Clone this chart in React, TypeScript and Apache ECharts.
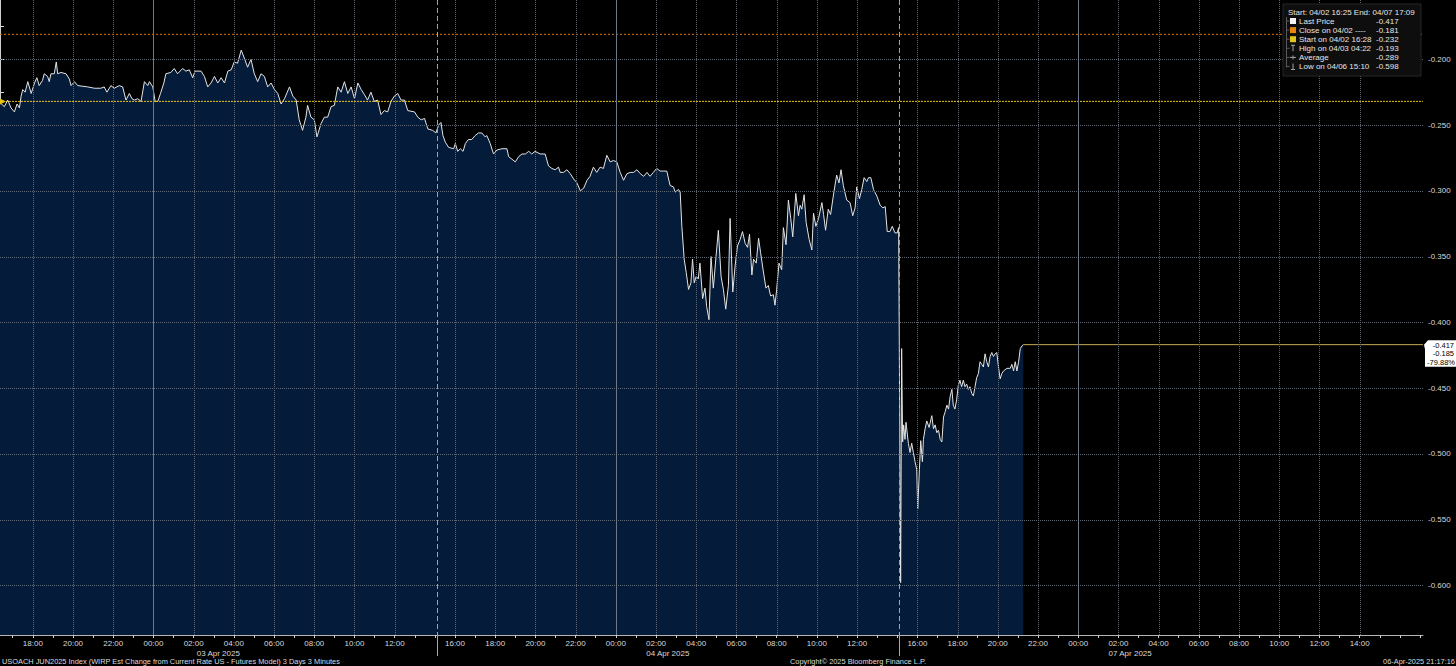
import { useEffect, useRef } from 'react';
import * as echarts from 'echarts';

// ---- sessions (compressed time axis, gaps between sessions removed) ----
const sessionOpens = ['04-02 16:22', '04-03 15:05', '04-06 15:05'];
const sessionCloses = ['04-03 14:05', '04-04 14:05', '04-07 14:05'];
const sessionDayLabels = ['03 Apr 2025', '04 Apr 2025', '07 Apr 2025'];
const chartEnd = '04-07 17:09';

// ---- data: session 1 (02 Apr 16:22 -> 03 Apr 14:05) ----
const s1Times = ['16:22','16:35','16:45','16:55','17:05','17:13','17:20','17:25','17:30','17:37','17:45','17:55','18:05','18:12','18:19','18:29','18:34','18:44','18:49','18:54','19:04','19:10','19:14','19:24','19:39','19:49','19:54','20:04','20:14','20:44','21:04','21:23','21:33','21:41','21:53','22:03','22:18','22:28','22:38','22:48','22:56','23:03','23:13','23:23','23:33','23:43','23:48','23:58','00:05','00:13','00:21','00:31','00:37','00:52','01:02','01:12','01:27','01:37','01:47','01:57','02:04','02:22','02:32','02:42','02:52','03:02','03:12','03:22','03:32','03:42','03:52','04:01','04:11','04:22','04:31','04:41','04:51','05:01','05:11','05:21','05:31','05:41','05:51','06:01','06:11','06:21','06:31','06:46','06:56','07:06','07:15','07:25','07:35','07:40','07:50','08:00','08:08','08:20','08:30','08:40','08:50','09:00','09:10','09:20','09:30','09:40','09:50','10:00','10:10','10:20','10:30','10:39','10:49','10:59','11:09','11:19','11:29','11:39','11:49','11:59','12:09','12:19','12:29','12:39','12:59','13:09','13:19','13:29','13:39','13:53','14:03'];
const s1Values = [-0.233,-0.236,-0.231,-0.237,-0.240,-0.234,-0.237,-0.228,-0.223,-0.225,-0.217,-0.226,-0.218,-0.214,-0.220,-0.216,-0.211,-0.213,-0.217,-0.211,-0.211,-0.202,-0.211,-0.210,-0.211,-0.215,-0.220,-0.217,-0.220,-0.221,-0.222,-0.222,-0.221,-0.225,-0.220,-0.222,-0.220,-0.221,-0.231,-0.226,-0.230,-0.231,-0.230,-0.232,-0.217,-0.220,-0.217,-0.221,-0.232,-0.232,-0.226,-0.218,-0.211,-0.210,-0.207,-0.211,-0.207,-0.209,-0.208,-0.214,-0.209,-0.209,-0.213,-0.221,-0.218,-0.213,-0.218,-0.214,-0.218,-0.209,-0.208,-0.202,-0.203,-0.193,-0.199,-0.206,-0.200,-0.211,-0.217,-0.211,-0.213,-0.221,-0.218,-0.223,-0.226,-0.234,-0.230,-0.221,-0.228,-0.231,-0.246,-0.254,-0.244,-0.235,-0.244,-0.246,-0.259,-0.249,-0.244,-0.244,-0.236,-0.235,-0.221,-0.225,-0.217,-0.226,-0.221,-0.230,-0.218,-0.223,-0.227,-0.231,-0.225,-0.232,-0.231,-0.242,-0.239,-0.240,-0.232,-0.228,-0.226,-0.231,-0.231,-0.239,-0.240,-0.244,-0.246,-0.245,-0.253,-0.254,-0.256];

// ---- data: session 2 (03 Apr 15:05 -> 04 Apr 14:05) ----
const s2Times = ['15:11','15:18','15:24','15:31','15:41','15:56','16:01','16:08','16:16','16:24','16:31','16:40','16:50','17:00','17:10','17:20','17:30','17:35','17:45','17:55','18:05','18:20','18:35','18:40','18:50','19:00','19:10','19:20','19:30','19:40','19:49','19:59','20:14','20:29','20:39','20:49','20:59','21:09','21:14','21:24','21:34','21:44','21:54','22:04','22:14','22:24','22:34','22:43','22:53','23:03','23:13','23:23','23:33','23:43','23:53','00:03','00:13','00:23','00:33','00:43','00:53','01:03','01:13','01:23','01:33','01:42','01:52','02:02','02:12','02:22','02:32','02:42','02:52','02:57','03:07','03:12','03:17','03:24','03:30','03:37','03:44','03:49','03:54','04:00','04:06','04:11','04:19','04:26','04:31','04:38','04:44','04:51','04:59','05:06','05:14','05:21','05:28','05:36','05:41','05:49','05:56','06:03','06:11','06:18','06:26','06:33','06:39','06:46','06:51','06:59','07:06','07:12','07:20','07:28','07:35','07:42','07:50','07:55','08:00','08:07','08:15','08:20','08:28','08:35','08:42','08:48','08:57','09:05','09:10','09:15','09:22','09:28','09:37','09:45','09:50','09:57','10:05','10:15','10:20','10:26','10:34','10:41','10:49','10:59','11:06','11:12','11:19','11:29','11:39','11:47','11:54','11:59','12:07','12:14','12:21','12:29','12:34','12:41','12:49','12:59','13:09','13:17','13:24','13:30','13:38','13:45','13:53','14:00','14:04'];
const s2Values = [-0.250,-0.248,-0.258,-0.263,-0.267,-0.268,-0.264,-0.270,-0.268,-0.270,-0.264,-0.261,-0.261,-0.258,-0.256,-0.256,-0.259,-0.258,-0.264,-0.272,-0.269,-0.268,-0.268,-0.274,-0.276,-0.278,-0.274,-0.272,-0.272,-0.270,-0.272,-0.270,-0.272,-0.272,-0.281,-0.283,-0.284,-0.282,-0.286,-0.286,-0.284,-0.287,-0.291,-0.294,-0.300,-0.298,-0.292,-0.289,-0.282,-0.286,-0.282,-0.283,-0.273,-0.278,-0.277,-0.278,-0.286,-0.292,-0.287,-0.286,-0.286,-0.284,-0.287,-0.289,-0.286,-0.289,-0.286,-0.283,-0.285,-0.285,-0.285,-0.296,-0.297,-0.301,-0.299,-0.301,-0.327,-0.352,-0.362,-0.375,-0.370,-0.352,-0.370,-0.365,-0.367,-0.355,-0.382,-0.374,-0.388,-0.398,-0.350,-0.374,-0.350,-0.330,-0.365,-0.375,-0.390,-0.372,-0.321,-0.377,-0.357,-0.342,-0.337,-0.331,-0.340,-0.343,-0.333,-0.364,-0.352,-0.355,-0.336,-0.347,-0.361,-0.374,-0.372,-0.380,-0.379,-0.387,-0.375,-0.355,-0.360,-0.328,-0.341,-0.307,-0.321,-0.335,-0.302,-0.319,-0.311,-0.314,-0.303,-0.324,-0.337,-0.345,-0.317,-0.327,-0.321,-0.309,-0.318,-0.330,-0.314,-0.318,-0.304,-0.288,-0.294,-0.284,-0.296,-0.307,-0.309,-0.319,-0.313,-0.297,-0.306,-0.299,-0.290,-0.293,-0.290,-0.290,-0.299,-0.304,-0.311,-0.313,-0.312,-0.331,-0.331,-0.327,-0.332,-0.332,-0.328];

// ---- data: session 3 (06 Apr 15:05 -> last print 21:16) ----
const s3Times = ['15:10','15:13','15:16','15:19','15:23','15:26','15:33','15:38','15:43','15:48','15:53','15:58','16:01','16:06','16:10','16:15','16:18','16:23','16:28','16:35','16:43','16:48','16:53','16:58','17:03','17:08','17:13','17:18','17:23','17:28','17:33','17:38','17:43','17:47','17:52','17:57','18:02','18:07','18:12','18:17','18:22','18:27','18:32','18:37','18:42','18:47','18:52','18:57','19:02','19:07','19:12','19:17','19:22','19:27','19:32','19:37','19:42','19:47','19:52','19:57','20:02','20:07','20:12','20:17','20:27','20:37','20:42','20:47','20:52','20:57','21:02','21:07','21:12','21:16'];
const s3Values = [-0.598,-0.420,-0.491,-0.478,-0.489,-0.476,-0.492,-0.499,-0.492,-0.499,-0.506,-0.512,-0.542,-0.512,-0.490,-0.506,-0.489,-0.481,-0.475,-0.480,-0.471,-0.481,-0.478,-0.484,-0.482,-0.489,-0.491,-0.472,-0.468,-0.463,-0.466,-0.456,-0.451,-0.463,-0.466,-0.459,-0.448,-0.444,-0.449,-0.444,-0.449,-0.447,-0.451,-0.449,-0.454,-0.456,-0.449,-0.442,-0.439,-0.430,-0.432,-0.434,-0.424,-0.430,-0.434,-0.426,-0.423,-0.426,-0.424,-0.423,-0.434,-0.443,-0.439,-0.437,-0.435,-0.435,-0.432,-0.437,-0.430,-0.437,-0.430,-0.420,-0.418,-0.417];

// ---- reference values ----
const closeValue = -0.181;
const startValue = -0.232;
const lastValue = -0.417;
const lastChange = '-0.185';
const lastChangePct = '-79.88%';
const yLabelValues = [-0.6, -0.55, -0.5, -0.45, -0.4, -0.35, -0.3, -0.25, -0.2];
const yTickValues = [-0.625, -0.6, -0.575, -0.55, -0.525, -0.5, -0.475, -0.45, -0.425, -0.4, -0.375, -0.35, -0.325, -0.3, -0.275, -0.25, -0.225, -0.2, -0.175];
const legendTitle = 'Start: 04/02 16:25 End: 04/07 17:09';
const legendLabels = ['Last Price', 'Close on 04/02 ----', 'Start on 04/02 16:28', 'High on 04/03 04:22', 'Average', 'Low on 04/06 15:10'];
const legendValues = ['-0.417', '-0.181', '-0.232', '-0.193', '-0.289', '-0.598'];
const footerLeft = 'USOACH JUN2025 Index (WIRP Est Change from Current Rate US - Futures Model) 3 Days 3 Minutes';
const footerCenter = 'Copyright\u00A9 2025 Bloomberg Finance L.P.';
const footerRight = '06-Apr-2025 21:17:16';

const yMin = -0.6378;
const yMax = -0.1549;

// ---- helpers ----
const clockMin = (hm: string) => {
  const [h, m] = hm.split(':').map(Number);
  return h * 60 + m;
};
const absMin = (s: string) => {
  const [md, hm] = s.split(' ');
  const d = Number(md.split('-')[1]);
  return d * 1440 + clockMin(hm);
};
const openAbs = sessionOpens.map(absMin);
const closeAbs = sessionCloses.map(absMin);
const offsets: number[] = [];
{
  let acc = 0;
  for (let i = 0; i < openAbs.length; i++) {
    offsets.push(acc);
    acc += closeAbs[i] - openAbs[i];
  }
}
const posOf = (s: number, hm: string) =>
  offsets[s] + ((clockMin(hm) - (openAbs[s] % 1440) + 1440) % 1440);
const axisMax = offsets[2] + absMin(chartEnd) - openAbs[2];

const lineData: number[][] = [];
[[s1Times, s1Values], [s2Times, s2Values], [s3Times, s3Values]].forEach(([t, v]: any, s) => {
  (t as string[]).forEach((hm, i) => lineData.push([posOf(s, hm), (v as number[])[i]]));
});
const lastPos = lineData[lineData.length - 1][0];

// ticks / labels
const tickPos: number[] = [];
const labelPos: number[] = [];
const labelMap = new Map<number, string>();
const evenHourPos: number[] = [];
const midnightPos: number[] = [];
for (let s = 0; s < openAbs.length; s++) {
  const isBreak = s < openAbs.length - 1;
  const tickEnd = isBreak ? closeAbs[s] : absMin(chartEnd);
  const labelEnd = isBreak ? closeAbs[s] - 30 : closeAbs[s];
  for (let t = Math.ceil(openAbs[s] / 60) * 60; t <= tickEnd; t += 60) {
    const p = offsets[s] + t - openAbs[s];
    const hour = (t % 1440) / 60;
    tickPos.push(p);
    if (hour % 2 === 0 && t <= labelEnd) {
      labelPos.push(p);
      labelMap.set(p, String(hour).padStart(2, '0') + ':00');
      if (hour === 0) midnightPos.push(p);
      else evenHourPos.push(p);
    }
  }
  const c = offsets[s] + (closeAbs[s] - openAbs[s]) / 2;
  labelPos.push(c);
  labelMap.set(c, '\n' + sessionDayLabels[s]);
}
const sessionBreaks = offsets.slice(1);

const FONT = "'Liberation Sans', Arial, sans-serif";

const flatLine = (name: string, value: number, x0: number, x1: number, color: string, type: any, z: number) => ({
  name,
  type: 'line',
  data: [[x0, value], [x1, value]],
  symbol: 'none',
  showSymbol: false,
  silent: true,
  color,
  lineStyle: { color, width: 1, type },
  z,
});

export default function App() {
  const ref = useRef<HTMLDivElement>(null);
  useEffect(() => {
    document.body.style.margin = '0';
    document.body.style.background = '#000';
    const chart = echarts.init(ref.current!, null, { renderer: 'svg' });
    chart.setOption({
      backgroundColor: '#000',
      animation: false,
      grid: { left: 0, right: 33, top: 0, bottom: 31, outerBoundsMode: 'none' },
      xAxis: {
        type: 'value',
        min: 0,
        max: axisMax,
        axisLine: { show: true, lineStyle: { color: '#b4b4b4', width: 1 } },
        axisTick: { show: true, customValues: tickPos, length: 3, lineStyle: { color: '#cfcfcf' } },
        axisLabel: {
          show: true,
          customValues: labelPos,
          formatter: (v: number) => labelMap.get(v) ?? '',
          color: '#d8d8d8',
          fontSize: 8,
          fontFamily: FONT,
          margin: 3,
          lineHeight: 10,
        },
        splitLine: { show: false },
      },
      yAxis: {
        type: 'value',
        position: 'right',
        min: yMin,
        max: yMax,
        axisLine: { show: true, lineStyle: { color: '#cfcfcf', width: 1 } },
        axisTick: { show: true, customValues: yTickValues, length: 4, lineStyle: { color: '#d8d8d8' } },
        axisLabel: {
          show: true,
          customValues: yLabelValues,
          formatter: (v: number) => v.toFixed(3),
          color: '#d8d8d8',
          fontSize: 8,
          fontFamily: FONT,
          margin: 5,
        },
        splitLine: { show: false },
      },
      series: [
        {
          name: 'Last Price',
          type: 'line',
          data: lineData,
          symbol: 'none',
          showSymbol: false,
          color: '#e4e4e4',
          lineStyle: { color: '#e4e4e4', width: 1 },
          areaStyle: { color: '#041c3a', opacity: 1, origin: 'start' },
          z: 2,
          markPoint: {
            silent: true,
            animation: false,
            data: [
              {
                coord: [0, startValue],
                symbol: 'triangle',
                symbolSize: [6, 6],
                symbolRotate: -90,
                symbolOffset: [3, 0],
                itemStyle: { color: '#e0c21a' },
                label: { show: false },
              },
            ],
          },
        },
        flatLine('Close on 04/02', closeValue, 0, axisMax, '#d87412', [2, 2], 8),
        flatLine('Start on 04/02', startValue, 0, axisMax, '#e8c412', [2, 1], 8),
        flatLine('Last extension', lastValue, lastPos, axisMax, '#c4ab55', 'solid', 9),
      ],
    });

    const px = (v: number) => chart.convertToPixel({ xAxisIndex: 0 }, v) as number;
    const py = (v: number) => chart.convertToPixel({ yAxisIndex: 0 }, v) as number;
    const yLast = py(lastValue);
    const yBottom = py(yMin);
    const yTop = py(yMax);
    const xLeft = px(0);
    const xAxisRight = px(axisMax);

    const gl = (x1: number, y1: number, x2: number, y2: number, stroke: string, dash: number[] | null, z = 20) => ({
      type: 'line',
      z,
      silent: true,
      shape: { x1, y1, x2, y2 },
      style: { stroke, lineWidth: 1, lineDash: dash ?? undefined },
    });

    const gridLines: any[] = [
      ...yLabelValues.map((v) => { const y = Math.round(py(v)) + 0.5; return gl(xLeft, y, xAxisRight, y, '#5f6872', [1, 1]); }),
      ...evenHourPos.map((v) => { const x = Math.round(px(v)) + 0.5; return gl(x, yTop, x, yBottom, '#5f6872', [1, 1]); }),
      ...midnightPos.map((v) => { const x = Math.round(px(v)) + 0.5; return gl(x, yTop, x, yBottom, '#6c7886', null); }),
      ...sessionBreaks.map((v) => { const x = Math.round(px(v)) + 0.5; return gl(x, yTop, x, yBottom, '#a4a4a4', [5, 3]); }),
      ...sessionBreaks.map((v) => { const x = Math.round(px(v)) + 0.5; return gl(x, yBottom, x, yBottom + 21, '#a8a8a8', null); }),
    ];

    const txt = (text: string, x: number, y: number, opts: any = {}) => ({
      type: 'text',
      x,
      y,
      z: 100,
      silent: true,
      style: {
        text,
        fill: opts.fill ?? '#e6e6e6',
        fontSize: opts.size ?? 8,
        fontFamily: FONT,
        align: opts.align ?? 'left',
        verticalAlign: 'middle',
      },
    });

    const lx = 1283;
    const rowY = (i: number) => 21 + i * 9.1;
    const legend: any[] = [
      { type: 'rect', z: 99, silent: true, shape: { x: lx, y: 4, width: 138, height: 72 }, style: { fill: '#0e0e0e', stroke: '#262626', lineWidth: 1 } },
      txt(legendTitle, lx + 5, 12),
      { type: 'line', z: 100, silent: true, shape: { x1: lx + 3.5, y1: 17, x2: lx + 3.5, y2: rowY(5) + 1 }, style: { stroke: '#5a5a5a', lineWidth: 1 } },
    ];
    const iconColors = ['#f4f4f4', '#e8850e', '#e2c41e'];
    legendLabels.forEach((lab, i) => {
      const y = rowY(i);
      legend.push({ type: 'line', z: 100, silent: true, shape: { x1: lx + 3.5, y1: y, x2: lx + 6.5, y2: y }, style: { stroke: '#5a5a5a', lineWidth: 1 } });
      if (i < 3) {
        legend.push({ type: 'rect', z: 101, silent: true, shape: { x: lx + 7, y: y - 3, width: 6, height: 6 }, style: { fill: iconColors[i] } });
      } else if (i === 3) {
        legend.push({ type: 'line', z: 101, silent: true, shape: { x1: lx + 8, y1: y - 3, x2: lx + 12, y2: y - 3 }, style: { stroke: '#a0a0a0', lineWidth: 1 } });
        legend.push({ type: 'line', z: 101, silent: true, shape: { x1: lx + 10, y1: y - 3, x2: lx + 10, y2: y + 3 }, style: { stroke: '#a0a0a0', lineWidth: 1 } });
      } else if (i === 4) {
        legend.push({ type: 'line', z: 101, silent: true, shape: { x1: lx + 7, y1: y, x2: lx + 13, y2: y }, style: { stroke: '#a0a0a0', lineWidth: 1 } });
        legend.push({ type: 'line', z: 101, silent: true, shape: { x1: lx + 10, y1: y - 2, x2: lx + 10, y2: y + 2 }, style: { stroke: '#a0a0a0', lineWidth: 1 } });
      } else {
        legend.push({ type: 'line', z: 101, silent: true, shape: { x1: lx + 8, y1: y + 3, x2: lx + 12, y2: y + 3 }, style: { stroke: '#a0a0a0', lineWidth: 1 } });
        legend.push({ type: 'line', z: 101, silent: true, shape: { x1: lx + 10, y1: y - 3, x2: lx + 10, y2: y + 3 }, style: { stroke: '#a0a0a0', lineWidth: 1 } });
      }
      legend.push(txt(lab, lx + 16, y));
      legend.push(txt(legendValues[i], lx + 93, y));
    });

    const bx = xAxisRight;
    const lastBox: any[] = [
      {
        type: 'polygon',
        z: 100,
        silent: true,
        shape: {
          points: [
            [bx + 1, yLast],
            [bx + 5, yLast - 4.5],
            [1456, yLast - 4.5],
            [1456, yLast + 22],
            [bx + 2, yLast + 22],
            [bx + 2, yLast + 4.5],
          ],
        },
        style: { fill: '#ffffff' },
      },
      txt(lastValue.toFixed(3), 1454, yLast + 0.5, { fill: '#000', align: 'right', size: 7.5 }),
      txt(lastChange, 1454, yLast + 9.3, { fill: '#000', align: 'right', size: 7.5 }),
      txt(lastChangePct, 1455, yLast + 17.8, { fill: '#000', align: 'right', size: 7.5 }),
    ];

    const footer: any[] = [
      txt(footerLeft, 2, 661, { size: 7.4, fill: '#dcdcdc' }),
      txt(footerCenter, 858, 661, { size: 7.4, fill: '#dcdcdc', align: 'center' }),
      txt(footerRight, 1455, 661, { size: 7.4, fill: '#dcdcdc', align: 'right' }),
    ];

    chart.setOption({ graphic: [...gridLines, ...legend, ...lastBox, ...footer] });
    return () => chart.dispose();
  }, []);
  return <div ref={ref} style={{ width: 1456, height: 666 }} />;
}
